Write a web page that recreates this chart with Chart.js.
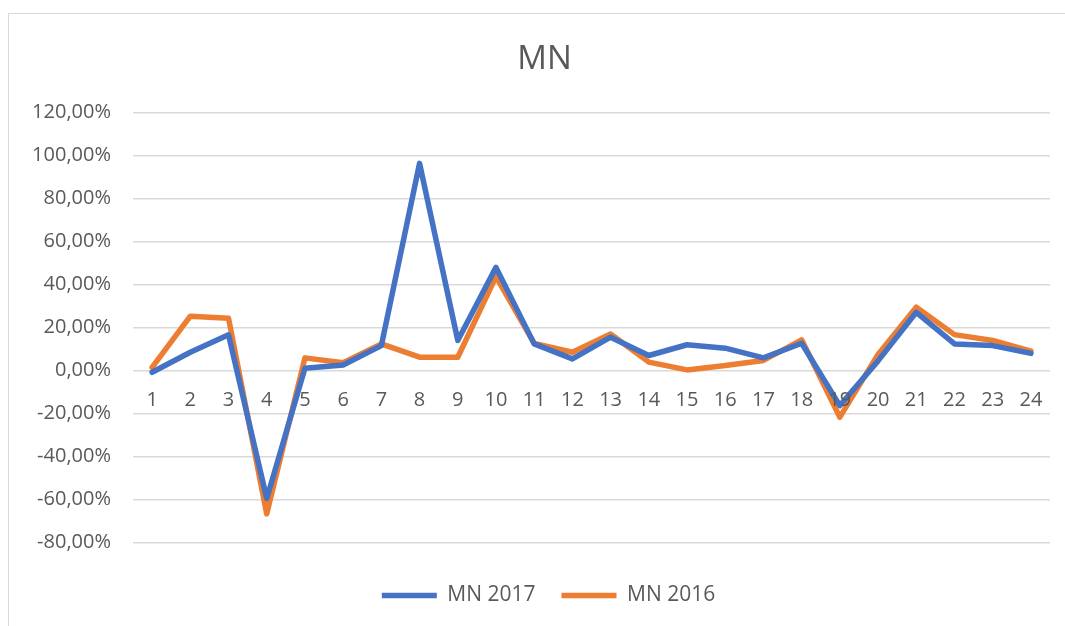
<!DOCTYPE html>
<html>
<head>
<meta charset="utf-8">
<script src="https://cdn.jsdelivr.net/npm/chart.js@4/dist/chart.umd.min.js"></script>
<style>
    body { margin: 0; background: #fff; }
    #frame {
        position: absolute; left: 8px; top: 13px;
        width: 1070px; height: 620px;
        border: 1px solid #d9d9d9; box-sizing: border-box;
    }
    #wrap { position: absolute; left: 0; top: 0; width: 1058px; height: 612px; }
</style>
</head>
<body>
<div id="frame"><div id="wrap"><canvas id="mnChart"></canvas></div></div>
<script>
const labels = ['1','2','3','4','5','6','7','8','9','10','11','12','13','14','15','16','17','18','19','20','21','22','23','24'];
const mn2017 = [-0.8, 8.5, 16.6, -59.5, 1.1, 2.6, 11.6, 96.4, 14.0, 48.0, 12.4, 5.4, 15.5, 7.0, 12.0, 10.4, 5.9, 12.7, -16.3, 4.5, 27.1, 12.4, 11.6, 8.0];
const mn2016 = [1.5, 25.3, 24.3, -66.7, 5.9, 3.6, 12.4, 6.2, 6.2, 43.7, 12.6, 8.5, 17.0, 3.9, 0.3, 2.3, 4.7, 14.3, -21.7, 7.5, 29.5, 16.7, 14.0, 9.0];
const yTicks = [-80, -60, -40, -20, 0, 20, 40, 60, 80, 100, 120];

const fontFamily = '"Open Sans", sans-serif';
const textColor = '#595959';

// nudge title and legend to the right, like Excel centres them
const shiftBoxes = {
    id: 'shiftBoxes',
    afterLayout(chart) {
        chart.legend.left += 8;
        chart.legend.right += 8;
        chart.titleBlock.left += 4;
        chart.titleBlock.right += 4;
    }
};

const ctx = document.getElementById('mnChart').getContext('2d');
new Chart(ctx, {
    type: 'line',
    data: {
        labels: labels,
        datasets: [
            {
                label: 'MN 2017',
                data: mn2017,
                borderColor: '#4472c4',
                backgroundColor: '#4472c4',
                borderWidth: 5.5,
                borderCapStyle: 'round',
                borderJoinStyle: 'round',
                pointRadius: 0,
                tension: 0
            },
            {
                label: 'MN 2016',
                data: mn2016,
                borderColor: '#ed7d31',
                backgroundColor: '#ed7d31',
                borderWidth: 5.5,
                borderCapStyle: 'round',
                borderJoinStyle: 'round',
                pointRadius: 0,
                tension: 0
            }
        ]
    },
    options: {
        responsive: true,
        maintainAspectRatio: false,
        animation: false,
        layout: { padding: { left: 22, right: 17, bottom: 10 } },
        plugins: {
            title: {
                display: true,
                text: 'MN',
                color: textColor,
                font: { family: fontFamily, size: 33, weight: 'normal' },
                padding: { top: 26, bottom: 33 }
            },
            legend: {
                position: 'bottom',
                title: { display: true, text: ' ', padding: 0, font: { size: 10, lineHeight: 1.65 } },
                labels: {
                    usePointStyle: true,
                    pointStyle: 'line',
                    pointStyleWidth: 55,
                    color: textColor,
                    padding: 26,
                    font: { family: fontFamily, size: 21 }
                }
            },
            tooltip: { enabled: false }
        },
        scales: {
            x: {
                position: { y: 0 },
                offset: true,
                grid: { display: false, drawTicks: false },
                border: { display: false },
                ticks: {
                    z: 1,
                    color: textColor,
                    padding: 18,
                    maxRotation: 0,
                    autoSkip: false,
                    font: { family: fontFamily, size: 20 }
                }
            },
            y: {
                min: -80,
                max: 120,
                afterBuildTicks: (scale) => {
                    scale.ticks = yTicks.map(v => ({ value: v }));
                },
                afterFit: (scale) => { scale.width = 102; },
                grid: { color: '#d9d9d9', lineWidth: 1.5, drawTicks: false },
                border: { display: false },
                ticks: {
                    color: textColor,
                    padding: 22,
                    font: { family: fontFamily, size: 20 },
                    callback: (v) => v.toFixed(2).replace('.', ',') + '%'
                }
            }
        }
    },
    plugins: [shiftBoxes]
});
</script>
</body>
</html>
